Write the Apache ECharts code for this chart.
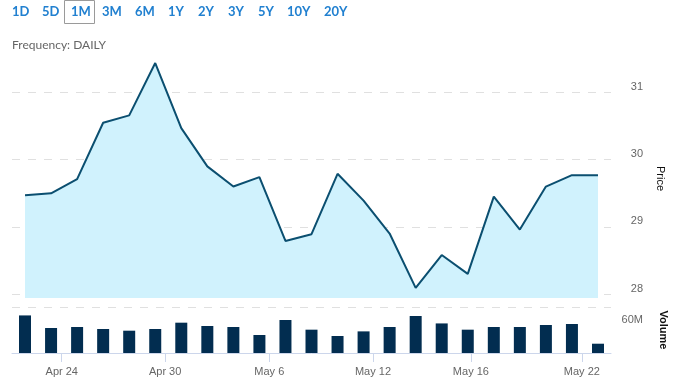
<!DOCTYPE html>
<html><head><meta charset="utf-8">
<script src="https://cdn.jsdelivr.net/npm/echarts@6/dist/echarts.min.js"></script>
<style>html,body{margin:0;padding:0;background:#fff}#c{width:678px;height:381px}</style>
</head><body><div id="c"></div>
<script>
// ---- data ----
const tradingDays = ['Apr 23','Apr 24','Apr 25','Apr 28','Apr 29','Apr 30','May 1','May 2','May 5','May 6','May 7','May 8','May 9','May 12','May 13','May 14','May 15','May 16','May 19','May 20','May 21','May 22','May 23'];
const priceValues = [29.47,29.50,29.71,30.55,30.66,31.44,30.47,29.90,29.60,29.74,28.79,28.89,29.79,29.39,28.90,28.09,28.58,28.30,29.45,28.96,29.60,29.77,29.77];
const volumeMillions = [81.7,54.3,56.5,52.2,48.5,52.2,65.9,58.7,56.5,39.1,71.7,50.7,37.0,47.0,56.5,80.4,64.3,50.7,56.5,56.5,60.9,63.0,20.2];
const tickLabels = ['Apr 24','Apr 30','May 6','May 12','May 16','May 22'];
const tickPositions = [1.41,5.38,9.38,13.36,17.12,21.38];
const priceTicks = [28,29,30,31];
const volumeTicks = [60];
const rangeButtons = ['1D','5D','1M','3M','6M','1Y','2Y','3Y','5Y','10Y','20Y'];
const selectedRange = '1M';
const frequencyText = 'Frequency: DAILY';

// ---- layout / style ----
const btnX = [12,42,71,102,135,168,198,228,258,287,324];
const labelFont = 'Liberation Sans, Arial, sans-serif';
const gridDash = {color:'#e0e0e0', width:1, type:[8,8]};

const chart = echarts.init(document.getElementById('c'), null, {renderer:'canvas'});

const graphics = [];
rangeButtons.forEach((b,i)=>{
  graphics.push({type:'text', left:btnX[i], top:5, style:{text:b, fill:'#2180d0', font:'bold 13px Lato, sans-serif'}});
  if (b === selectedRange) {
    graphics.push({type:'rect', shape:{x:64.5, y:0.5, width:30, height:23}, style:{fill:'none', stroke:'#9a9a9a', lineWidth:1}});
  }
});
graphics.push({type:'text', left:12, top:39, style:{text:frequencyText, fill:'#666', font:'12px Lato, sans-serif'}});

const option = {
  animation:false,
  graphic: graphics,
  grid:[
    {left:12, right:67, top:59, height:239},
    {left:12, right:67, top:307, height:46}
  ],
  xAxis:[
    {gridIndex:0, type:'value', min:-0.5, max:tradingDays.length-0.5, show:false},
    {gridIndex:1, type:'value', min:-0.5, max:tradingDays.length-0.5,
      axisLine:{show:true, lineStyle:{color:'#ccd6eb', width:1}},
      axisTick:{show:true, customValues:tickPositions, length:9, lineStyle:{color:'#ccd6eb'}},
      axisLabel:{customValues:tickPositions, margin:13, color:'#666', fontSize:11, fontFamily:labelFont,
        formatter:(v)=>{const k=tickPositions.findIndex(p=>Math.abs(p-v)<1e-6); return k>=0?tickLabels[k]:'';}},
      splitLine:{show:false}}
  ],
  yAxis:[
    {gridIndex:0, type:'value', position:'right', min:27.94, max:31.5, splitNumber:4,
      axisLine:{show:false}, axisTick:{show:false},
      axisLabel:{customValues:priceTicks, align:'right', margin:32, verticalAlign:'bottom', color:'#666', fontSize:11, fontFamily:labelFont},
      splitLine:{show:true, showMinLine:false, showMaxLine:false, lineStyle:gridDash},
      name:'Price', nameLocation:'middle', nameRotate:-90, nameGap:44,
      nameTextStyle:{color:'#111', fontSize:11, fontFamily:labelFont}},
    {gridIndex:1, type:'value', position:'right', min:0, max:100, interval:100,
      axisLine:{show:false}, axisTick:{show:false},
      axisLabel:{customValues:volumeTicks, align:'right', margin:32, verticalAlign:'bottom', color:'#666', fontSize:11, fontFamily:labelFont,
        formatter:(v)=>v+'M'},
      splitLine:{show:true, showMinLine:false, lineStyle:gridDash},
      name:'Volume', nameLocation:'middle', nameRotate:-90, nameGap:47,
      nameTextStyle:{color:'#111', fontSize:11, fontWeight:'bold', fontFamily:labelFont}}
  ],
  series:[
    {type:'line', xAxisIndex:0, yAxisIndex:0, data:priceValues.map((v,i)=>[i,v]),
      symbol:'none', lineStyle:{color:'#0b4f70', width:2}, areaStyle:{color:'#d0f2fd', origin:'start', opacity:1}},
    {type:'bar', xAxisIndex:1, yAxisIndex:1, data:volumeMillions.map((v,i)=>[i,v]),
      barWidth:12, itemStyle:{color:'#022d50'}}
  ]
};
chart.setOption(option);
</script></body></html>
